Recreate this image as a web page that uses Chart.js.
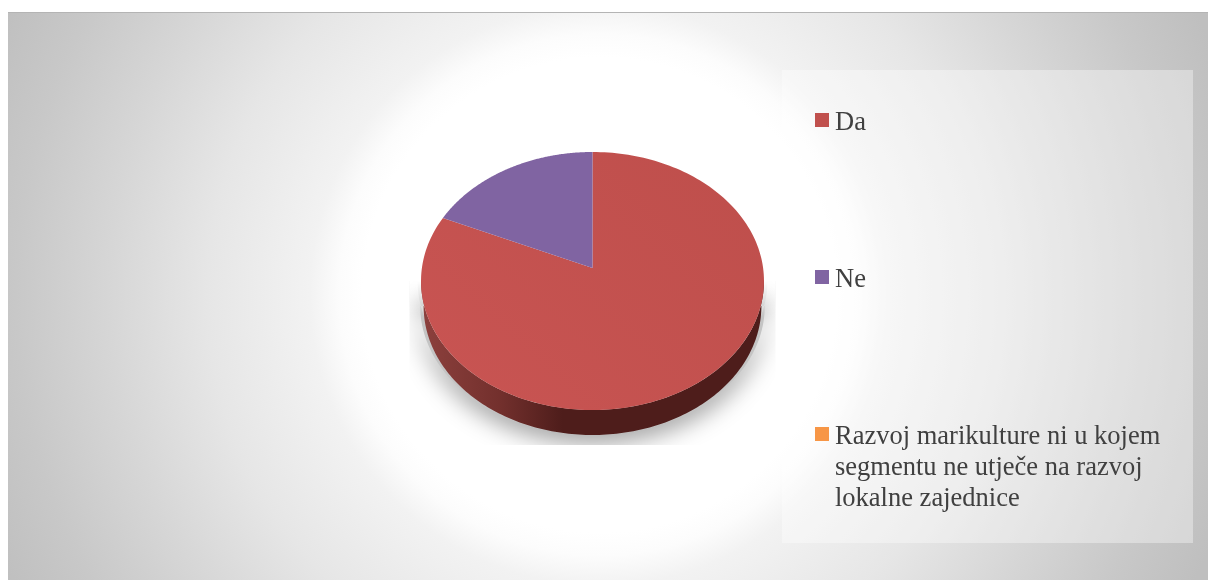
<!DOCTYPE html>
<html>
<head>
<meta charset="utf-8">
<script src="https://cdn.jsdelivr.net/npm/chart.js@4/dist/chart.umd.min.js"></script>
<style>
html,body{margin:0;padding:0;background:#fff;width:1208px;height:580px;overflow:hidden}
#card{position:absolute;left:8px;top:12px;width:1200px;height:568px;
 background:radial-gradient(circle 660px at 592px 282px,#fff 0,#fff 36%,#fcfcfc 39.5%,#f2f2f2 44%,#e6e6e6 59.5%,#d6d6d6 74.5%,#c8c8c8 88.5%,#bfbfbf 100%);
 border-top:1px solid #b4b4b4;box-sizing:border-box}
#panel{position:absolute;left:782px;top:70px;width:411px;height:473px;background:rgba(255,255,255,.36)}
canvas{position:absolute;left:0;top:0}
.item{position:absolute;left:835px;width:345px;font:26.5px/31px "Liberation Serif",serif;color:#404040}
.item i{position:absolute;left:-20px;top:7px;width:14px;height:14px}
</style>
</head>
<body>
<div id="card"></div>
<div id="panel"></div>
<canvas id="c" width="1208" height="580"></canvas>
<script>
const categories = ["Da", "Ne", "Razvoj marikulture ni u kojem segmentu ne utječe na razvoj lokalne zajednice"];
const values = [81.7, 18.3, 0];
const colors = ["#c0504d", "#8064a2", "#f79646"];
const legendTops = [106, 263, 420];

// Perspective of the tilted pie
const APEX_SHIFT = -13, TILT = -0.1008, SCALE_X = 0.9948, SCALE_Y = 0.7446, DEPTH = 25, BASE_SHRINK = 0.985;

function project(el, t) {
  const u = Math.cos(t), v = Math.sin(t), d = 1 + TILT * v, r = el.outerRadius;
  return [el.x + r * SCALE_X * u / d, el.y + APEX_SHIFT + r * SCALE_Y * v / d];
}

const tiltedPie = {
  id: "tiltedPie",
  beforeDatasetDraw(chart, args) {
    const ctx = chart.ctx, arcs = chart.getDatasetMeta(args.index).data, el0 = arcs[0];
    const t0 = Math.asin(-TILT), t1 = Math.PI - t0, N = 160, front = [];
    for (let i = 0; i <= N; i++) front.push(project(el0, t0 + (t1 - t0) * i / N));
    const cx = el0.x;
    const base = front.map(p => [cx + (p[0] - cx) * BASE_SHRINK, p[1] + DEPTH]);
    const poly = pts => pts.forEach((p, i) => i ? ctx.lineTo(p[0], p[1]) : ctx.moveTo(p[0], p[1]));

    // soft ground shadow, cut off in a box and faded towards the top
    const bx = el0.x - 183, by = el0.y, bw = 366, bh = 164;
    ctx.save();
    ctx.beginPath();
    ctx.rect(bx, by, bw, bh);
    ctx.clip();
    ctx.shadowColor = "rgba(0,0,0,.42)";
    ctx.shadowBlur = 24;
    ctx.shadowOffsetY = 7;
    ctx.fillStyle = "#c4c4c4";
    ctx.beginPath();
    poly(front.map(p => [cx + (p[0] - cx) * 1.02, p[1]]));
    poly(base.map(p => [cx + (p[0] - cx) * 1.02, p[1]]).reverse());
    ctx.closePath();
    ctx.fill();
    ctx.shadowColor = "transparent";
    const fade = ctx.createLinearGradient(0, by, 0, by + 35);
    fade.addColorStop(0, "rgba(255,255,255,1)");
    fade.addColorStop(1, "rgba(255,255,255,0)");
    ctx.fillStyle = fade;
    ctx.fillRect(bx, by, bw, 35);
    ctx.restore();

    // side wall
    const g = ctx.createLinearGradient(el0.x - 170, 0, el0.x - 30, 0);
    g.addColorStop(0, "#8c403d");
    g.addColorStop(0.55, "#73302d");
    g.addColorStop(1, "#4e1d1b");
    ctx.fillStyle = g;
    ctx.beginPath();
    poly(front);
    poly(base.slice().reverse());
    ctx.closePath();
    ctx.fill();

    // top faces, from the library's arc geometry
    arcs.forEach((el, i) => {
      if (el.endAngle - el.startAngle <= 0) return;
      const steps = 200, pts = [[el.x, el.y + APEX_SHIFT]];
      for (let s = 0; s <= steps; s++) pts.push(project(el, el.startAngle + (el.endAngle - el.startAngle) * s / steps));
      let fill = el.options.backgroundColor;
      if (i === 0) {
        const lg = ctx.createLinearGradient(el.x + 120, el.y - 130, el.x - 120, el.y + 130);
        lg.addColorStop(0, "#bf4f4c");
        lg.addColorStop(1, "#c85452");
        fill = lg;
      }
      ctx.fillStyle = fill;
      ctx.beginPath();
      poly(pts);
      ctx.closePath();
      ctx.fill();
    });
    return false;
  }
};

new Chart(document.getElementById("c"), {
  type: "pie",
  data: { labels: categories, datasets: [{ data: values, backgroundColor: colors, borderWidth: 0 }] },
  options: {
    responsive: false,
    animation: false,
    layout: { padding: { left: 421, right: 444, top: 109, bottom: 127 } },
    plugins: { legend: { display: false }, tooltip: { enabled: false } }
  },
  plugins: [tiltedPie]
});

categories.forEach((label, i) => {
  const d = document.createElement("div");
  d.className = "item";
  d.style.top = legendTops[i] + "px";
  d.textContent = label;
  const sw = document.createElement("i");
  sw.style.background = colors[i];
  d.appendChild(sw);
  document.body.appendChild(d);
});
</script>
</body>
</html>
